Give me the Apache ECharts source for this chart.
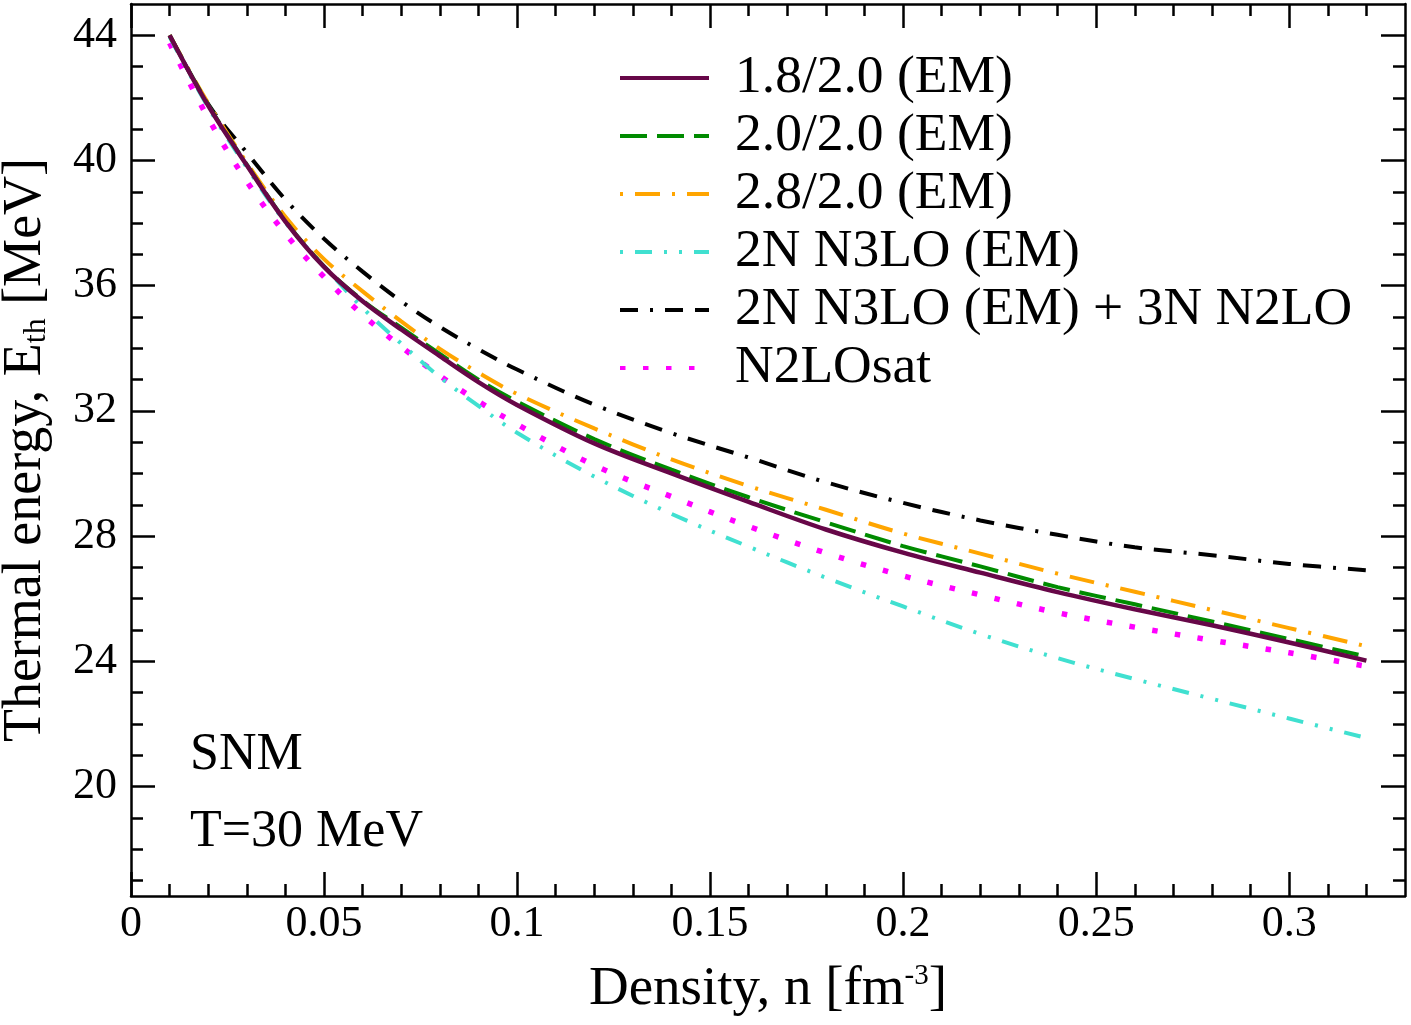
<!DOCTYPE html>
<html>
<head>
<meta charset="utf-8">
<title>Thermal energy, SNM, T=30 MeV</title>
<script src="https://cdn.jsdelivr.net/npm/echarts@6.0.0/dist/echarts.min.js"></script>
<style>
  html, body { margin: 0; padding: 0; background: #ffffff; }
  #chart { width: 1411px; height: 1025px; }
</style>
</head>
<body>
<div id="chart"></div>
<script>
// density n [fm^-3]
const density = [0.01, 0.02, 0.03, 0.04, 0.05, 0.06, 0.07, 0.08, 0.09, 0.10,
  0.12, 0.14, 0.16, 0.18, 0.20, 0.22, 0.24, 0.26, 0.28, 0.30, 0.32]

// thermal energy E_th [MeV]
const em18 = [44.0, 41.75, 39.85, 38.05, 36.6, 35.5, 34.6, 33.75, 32.92, 32.19,
  30.96, 30.0, 29.09, 28.21, 27.47, 26.83, 26.21, 25.66, 25.15, 24.6, 24.02]
const em20 = [44.0, 41.78, 39.87, 38.07, 36.62, 35.53, 34.66, 33.82, 33.0, 32.3,
  31.1, 30.12, 29.24, 28.44, 27.68, 27.03, 26.37, 25.82, 25.27, 24.71, 24.15]
const em28 = [44.0, 41.83, 39.93, 38.2, 36.85, 35.82, 34.86, 33.98, 33.22, 32.54,
  31.44, 30.45, 29.6, 28.84, 28.08, 27.44, 26.8, 26.22, 25.64, 25.06, 24.48]
const n3lo = [43.95, 41.7, 39.78, 38.02, 36.62, 35.29, 34.15, 33.08, 32.16, 31.3,
  29.9, 28.71, 27.66, 26.67, 25.75, 24.87, 24.1, 23.43, 22.8, 22.17, 21.55]
const n3lo3n = [44.0, 41.8, 40.25, 38.75, 37.5, 36.45, 35.5, 34.68, 33.97, 33.32,
  32.2, 31.29, 30.51, 29.72, 29.06, 28.5, 28.04, 27.64, 27.39, 27.11, 26.91]
const n2losat = [43.75, 41.35, 39.33, 37.66, 36.28, 35.07, 34.05, 33.12, 32.3, 31.57,
  30.26, 29.26, 28.31, 27.46, 26.73, 26.12, 25.55, 25.09, 24.67, 24.27, 23.84]

const labels = ['1.8/2.0 (EM)', '2.0/2.0 (EM)', '2.8/2.0 (EM)', '2N N3LO (EM)',
  '2N N3LO (EM) + 3N N2LO', 'N2LOsat']

// tick positions
const xMajor = [0, 0.05, 0.1, 0.15, 0.2, 0.25, 0.3]
const xMinor = [0.01, 0.02, 0.03, 0.04, 0.06, 0.07, 0.08, 0.09, 0.11, 0.12, 0.13, 0.14,
  0.16, 0.17, 0.18, 0.19, 0.21, 0.22, 0.23, 0.24, 0.26, 0.27, 0.28, 0.29, 0.31, 0.32]
const yMajor = [20, 24, 28, 32, 36, 40, 44]
const yMinor = [17, 18, 19, 21, 22, 23, 25, 26, 27, 29, 30, 31, 33, 34, 35, 37, 38, 39,
  41, 42, 43]

const FONT = 'Liberation Serif'
const AXW = 2.5

function pairs(ys) {
  return density.map((x, i) => [x, ys[i]])
}

function xAxisDef(pos, ticks, len, main) {
  return {
    type: 'value',
    position: pos,
    min: 0,
    max: 0.33,
    axisLine: { show: main, onZero: false, lineStyle: { color: '#000', width: AXW } },
    axisTick: { show: true, inside: true, length: len, customValues: ticks,
      lineStyle: { color: '#000', width: AXW } },
    axisLabel: { show: false },
    splitLine: { show: false },
  }
}
function yAxisDef(pos, ticks, len, main) {
  return {
    type: 'value',
    position: pos,
    min: 16.5,
    max: 45,
    axisLine: { show: main, onZero: false, lineStyle: { color: '#000', width: AXW } },
    axisTick: { show: true, inside: true, length: len, customValues: ticks,
      lineStyle: { color: '#000', width: AXW } },
    axisLabel: { show: false },
    splitLine: { show: false },
  }
}

const xAxes = [
  xAxisDef('bottom', xMajor, 24, true),
  xAxisDef('bottom', xMinor, 12, false),
  xAxisDef('top', xMajor, 24, true),
  xAxisDef('top', xMinor, 12, false),
]
xAxes[0].axisLabel = {
  show: true, customValues: xMajor, margin: 6,
  fontFamily: FONT, fontSize: 44, color: '#000',
}
xAxes[0].name = 'Density, n [fm{sup|-3}]'
xAxes[0].nameLocation = 'middle'
xAxes[0].nameGap = 66
xAxes[0].nameTextStyle = {
  fontFamily: FONT, fontSize: 55, color: '#000',
  rich: { sup: { fontFamily: FONT, fontSize: 29, lineHeight: 22, color: '#000', verticalAlign: 'top' } },
}

const yAxes = [
  yAxisDef('left', yMajor, 24, true),
  yAxisDef('left', yMinor, 12, false),
  yAxisDef('right', yMajor, 24, true),
  yAxisDef('right', yMinor, 12, false),
]
yAxes[0].axisLabel = {
  show: true, customValues: yMajor, margin: 14,
  fontFamily: FONT, fontSize: 44, color: '#000',
}
yAxes[0].name = 'Thermal energy, E{sub|th} [MeV]'
yAxes[0].nameLocation = 'middle'
yAxes[0].nameRotate = 90
yAxes[0].nameGap = 78
yAxes[0].nameTextStyle = {
  fontFamily: FONT, fontSize: 54, color: '#000',
  rich: { sub: { fontFamily: FONT, fontSize: 32, color: '#000', verticalAlign: 'bottom' } },
}

const styles = [
  { color: '#670748', width: 4.5, type: 'solid' },
  { color: '#008b00', width: 4, type: [27, 10] },
  { color: '#ffa500', width: 4, type: [25, 12, 3, 12] },
  { color: '#40e0d0', width: 4, type: [17, 12, 3, 12, 3, 12] },
  { color: '#000000', width: 4, type: [18, 12, 18, 12, 3, 12] },
  { color: '#ff00ff', width: 5.5, type: [5.5, 17.5] },
]
// where each dash pattern starts in the legend sample
const legendDashOffset = [0, 0, 37, 44, 30, 0]
const values = [em18, em20, em28, n3lo, n3lo3n, n2losat]

const series = values.map((ys, i) => ({
  name: labels[i],
  type: 'line',
  xAxisIndex: 0,
  yAxisIndex: 0,
  data: pairs(ys),
  symbol: 'none',
  smooth: 0.35,
  color: styles[i].color,
  lineStyle: styles[i],
  z: 10 - i,
}))

const chart = echarts.init(document.getElementById('chart'))
chart.setOption({
  animation: false,
  backgroundColor: '#ffffff',
  grid: { left: 131, right: 6, top: 4, bottom: 129, containLabel: false, outerBoundsMode: 'none' },
  xAxis: xAxes,
  yAxis: yAxes,
  legend: {
    orient: 'vertical',
    left: 618,
    top: 51,
    padding: 0,
    itemWidth: 89,
    itemHeight: 20,
    itemGap: 4,
    itemStyle: { opacity: 0 },
    lineStyle: { width: 4 },
    textStyle: { fontFamily: FONT, fontSize: 53.5, color: '#000', padding: [0, 0, 0, 21] },
    data: labels.map((name, i) => ({ name: name, lineStyle: { dashOffset: legendDashOffset[i] } })),
  },
  graphic: [
    { type: 'text', x: 190, y: 755,
      style: { text: 'SNM', font: '52px "Liberation Serif"', fill: '#000', align: 'left', verticalAlign: 'middle' } },
    { type: 'text', x: 190, y: 832,
      style: { text: 'T=30 MeV', font: '52px "Liberation Serif"', fill: '#000', align: 'left', verticalAlign: 'middle' } },
  ],
  series: series,
})
</script>
</body>
</html>
